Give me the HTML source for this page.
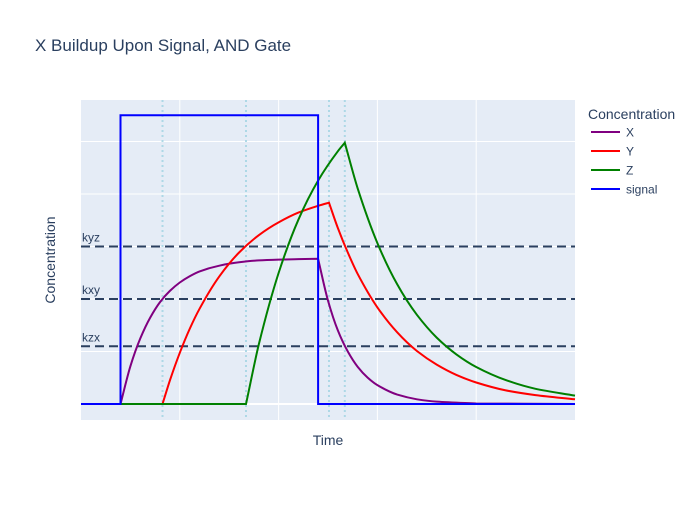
<!DOCTYPE html>
<html><head><meta charset="utf-8"><style>
body{margin:0;background:#fff;font-family:"Liberation Sans",sans-serif}
svg text{font-family:"Liberation Sans",sans-serif;fill:#2a3f5f}
</style></head><body>
<svg id="chart" width="700" height="500" xmlns="http://www.w3.org/2000/svg">
<rect width="700" height="500" fill="#fff"/>
<text x="35" y="51" font-size="17">X Buildup Upon Signal, AND Gate</text>
<rect x="81" y="100" width="494" height="320" fill="#e5ecf6"/>
<g id="grid"></g><g id="refs"></g><g id="series"></g>
<text x="328" y="445" font-size="14" text-anchor="middle">Time</text>
<text x="55" y="260" font-size="14" text-anchor="middle" transform="rotate(-90 55 260)">Concentration</text>
<g>
<text x="588" y="119" font-size="14">Concentration</text>
<g><line x1="591" y1="132" x2="620" y2="132" stroke="purple" stroke-width="2"/><text x="626" y="136.5" font-size="12">X</text></g>
<g><line x1="591" y1="151" x2="620" y2="151" stroke="red" stroke-width="2"/><text x="626" y="155.5" font-size="12">Y</text></g>
<g><line x1="591" y1="170" x2="620" y2="170" stroke="green" stroke-width="2"/><text x="626" y="174.5" font-size="12">Z</text></g>
<g><line x1="591" y1="189" x2="620" y2="189" stroke="blue" stroke-width="2"/><text x="626" y="193.5" font-size="12">signal</text></g>
</g>
</svg>
<script>
const xTimes=[0,0.4,0.5,0.6,0.7,0.8,0.9,1.0,1.1,1.2,1.4,1.6,1.8,2.0,2.2,2.4,2.5,2.6,2.7,2.8,2.9,3.0,3.2,3.4,3.6,4.0,5.0];
const xVals=[0,0,0.144,0.250,0.329,0.388,0.431,0.463,0.487,0.505,0.527,0.540,0.547,0.550,0.552,0.553,0.394,0.280,0.200,0.142,0.101,0.072,0.036,0.018,0.009,0.002,0];
const yTimes=[0,0.825,0.9,1.0,1.1,1.2,1.4,1.6,1.8,2.0,2.2,2.4,2.51,2.6,2.7,2.8,3.0,3.2,3.4,3.6,3.8,4.0,4.3,4.6,5.0];
const yVals=[0,0,0.090,0.195,0.286,0.363,0.486,0.577,0.643,0.692,0.729,0.755,0.767,0.670,0.577,0.496,0.368,0.273,0.202,0.150,0.111,0.082,0.052,0.034,0.018];
const zTimes=[0,1.67,1.8,2.0,2.2,2.4,2.6,2.67,2.8,3.0,3.2,3.4,3.6,3.8,4.0,4.3,4.6,5.0];
const zVals=[0,0,0.227,0.499,0.702,0.851,0.963,0.995,0.822,0.613,0.456,0.340,0.253,0.189,0.141,0.091,0.058,0.032];
const signalTimes=[0,0.4,0.4,2.4,2.4,5];
const signalVals=[0,0,1.1,1.1,0,0];
const thresholdNames=['kyz','kxy','kzx'];
const thresholdVals=[0.6,0.4,0.22];
const eventTimes=[0.825,1.67,2.51,2.67];
const xGridTicks=[1,2,3,4];
const yGridTicks=[0.2,0.4,0.6,0.8,1.0];
const NS='http://www.w3.org/2000/svg';
const sx=t=>81+t*98.8;
const sy=v=>404-v*262.5;
function mk(p,tag,a){const e=document.createElementNS(NS,tag);for(const k in a)e.setAttribute(k,a[k]);document.getElementById(p).appendChild(e);return e;}
xGridTicks.forEach(t=>{const e=mk('grid','line',{x1:sx(t),x2:sx(t),y1:100,y2:420,stroke:'#fff','stroke-width':1});

});
yGridTicks.forEach(v=>{const e=mk('grid','line',{x1:81,x2:575,y1:sy(v),y2:sy(v),stroke:'#fff','stroke-width':1});

});
const z0=mk('grid','line',{x1:81,x2:575,y1:sy(0),y2:sy(0),stroke:'#fff','stroke-width':2});


eventTimes.forEach(t=>{const e=mk('refs','line',{x1:sx(t),x2:sx(t),y1:100,y2:420,stroke:'#add8e6','stroke-width':2,'stroke-dasharray':'2,3'});

});
thresholdVals.forEach((v,i)=>{const e=mk('refs','line',{x1:81,x2:575,y1:sy(v),y2:sy(v),stroke:'#2a3f5f','stroke-width':2,'stroke-dasharray':'9,5'});


const t=mk('refs','text',{x:82,y:sy(v)-5,'font-size':12});t.textContent=thresholdNames[i];

});
function smoothPath(ts,vs){
  const X=ts.map(sx),Y=vs.map(sy),n=X.length;
  const d=[];
  for(let i=0;i<n-1;i++){const dx=X[i+1]-X[i];d.push(dx===0?0:(Y[i+1]-Y[i])/dx);}
  // outgoing and incoming tangents per point; kinks keep separate one-sided slopes
  const mOut=new Array(n).fill(0),mIn=new Array(n).fill(0);
  mOut[0]=d[0]||0;mIn[n-1]=d[n-2]||0;
  for(let i=1;i<n-1;i++){
    const a=d[i-1],b=d[i];
    const kink=(a*b<=0)||Math.abs(a)>3*Math.abs(b)||Math.abs(b)>3*Math.abs(a);
    if(kink){mIn[i]=a;mOut[i]=b;}
    else{const h=2/(1/a+1/b);mIn[i]=h;mOut[i]=h;}
  }
  let p='M'+X[0].toFixed(1)+','+Y[0].toFixed(1);
  for(let i=0;i<n-1;i++){const dx=X[i+1]-X[i];
    if(dx===0){p+='L'+X[i+1].toFixed(1)+','+Y[i+1].toFixed(1);continue;}
    p+='C'+(X[i]+dx/3).toFixed(1)+','+(Y[i]+mOut[i]*dx/3).toFixed(1)+' '+(X[i+1]-dx/3).toFixed(1)+','+(Y[i+1]-mIn[i+1]*dx/3).toFixed(1)+' '+X[i+1].toFixed(1)+','+Y[i+1].toFixed(1);}
  return p;}
function line(ts,vs,color,name){
const e=mk('series','path',{d:smoothPath(ts,vs),fill:'none',stroke:color,'stroke-width':2,'stroke-linejoin':'miter'});

}
line(xTimes,xVals,'purple','series-x');
line(yTimes,yVals,'red','series-y');
line(zTimes,zVals,'green','series-z');
line(signalTimes,signalVals,'blue','series-signal');
</script>
</body></html>
